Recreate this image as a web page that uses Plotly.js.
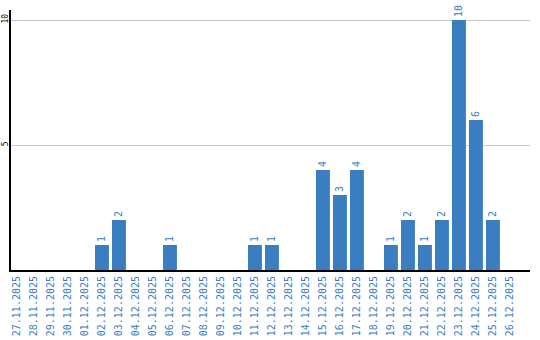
<!DOCTYPE html>
<html><head><meta charset="utf-8">
<script src="https://cdn.plot.ly/plotly-3.0.1.min.js"></script>
<style>html,body{margin:0;padding:0;background:#fff}#c{width:540px;height:340px}</style>
</head><body><div id="c"></div>
<script>
const dates = ["27.11.2025","28.11.2025","29.11.2025","30.11.2025","01.12.2025","02.12.2025","03.12.2025","04.12.2025","05.12.2025","06.12.2025","07.12.2025","08.12.2025","09.12.2025","10.12.2025","11.12.2025","12.12.2025","13.12.2025","14.12.2025","15.12.2025","16.12.2025","17.12.2025","18.12.2025","19.12.2025","20.12.2025","21.12.2025","22.12.2025","23.12.2025","24.12.2025","25.12.2025","26.12.2025"];
const counts = [0,0,0,0,0,1,2,0,0,1,0,0,0,0,1,1,0,0,4,3,4,0,1,2,1,2,10,6,2,0];
const yTicks = [5,10];

const labels = counts.map(v => v > 0 ? String(v) : "");
const blue = "#3a7ebf";
Plotly.newPlot("c", [{
  type: "bar", x: dates, y: counts,
  marker: {color: blue},
  text: labels, textposition: "outside", textangle: -90,
  textfont: {family: "DejaVu Sans Mono", size: 10, color: blue},
  cliponaxis: false, hoverinfo: "none"
}], {
  width: 540, height: 340,
  margin: {l: 11, r: 10, t: 10, b: 70},
  bargap: 0.18,
  showlegend: false,
  paper_bgcolor: "#fff", plot_bgcolor: "#fff",
  xaxis: {
    type: "category", range: [-0.35, 30.18],
    tickangle: -90, tickfont: {family: "DejaVu Sans Mono", size: 10, color: blue},
    showline: true, linecolor: "#000", linewidth: 2, showgrid: false,
    ticks: "", ticklen: 0
  },
  yaxis: {
    range: [0, 10.4], tickvals: yTicks, ticktext: yTicks.map(String),
    tickangle: -90, tickfont: {family: "DejaVu Sans Mono", size: 8, color: "#000"},
    ticklabelstandoff: -2,
    showline: true, linecolor: "#000", linewidth: 2,
    showgrid: true, gridcolor: "#c8c8c8", gridwidth: 1, zeroline: false,
    ticks: "", ticklen: 0
  }
}, {staticPlot: true});
</script></body></html>
